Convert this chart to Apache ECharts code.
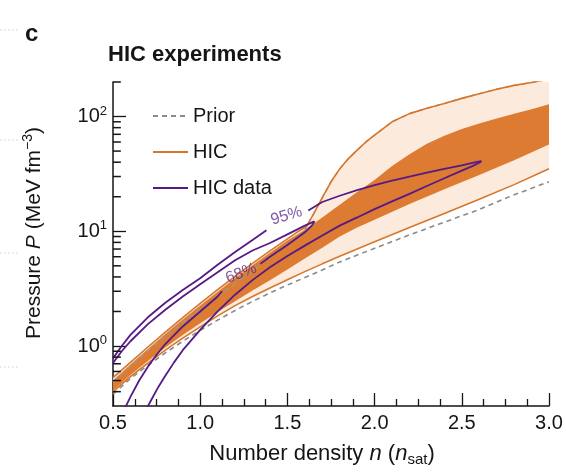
<!DOCTYPE html>
<html><head><meta charset="utf-8">
<script src="https://cdn.jsdelivr.net/npm/echarts@6/dist/echarts.min.js"></script>
<style>html,body{margin:0;padding:0;background:#fff}#c{width:566px;height:472px}</style>
</head><body><div id="c"></div>
<script>
// ---- data (n in n_sat, P in MeV fm^-3) ----
const priorLower = [[0.5,0.38],[0.6,0.52],[0.7,0.68],[0.8,0.87],[0.9,1.10],[1.0,1.37],[1.1,1.68],[1.2,2.04],[1.3,2.45],[1.4,2.9],[1.5,3.4],[1.6,3.95],[1.7,4.6],[1.8,5.4],[1.9,6.2],[2.0,7.1],[2.2,9.3],[2.4,12.0],[2.6,15.5],[2.8,20.8],[3.0,27]];
const priorUpper = [[0.5,0.49],[0.6,0.67],[0.7,0.91],[0.8,1.21],[0.9,1.6],[1.0,2.08],[1.1,2.7],[1.2,3.5],[1.3,4.55],[1.4,5.9],[1.5,7.6],[1.55,8.7],[1.6,10.2],[1.61,11.0],[1.65,14.2],[1.7,19.6],[1.75,27],[1.8,35],[1.85,43],[1.9,51],[1.95,60],[2.0,69],[2.1,90],[2.2,106],[2.3,118],[2.4,130],[2.5,144],[2.6,158],[2.7,173],[2.8,187],[2.9,198],[3.0,212]];
const hicUpper = [[0.5,0.53],[0.6,0.72],[0.7,0.98],[0.8,1.32],[0.9,1.77],[1.0,2.35],[1.1,3.1],[1.2,4.05],[1.3,5.25],[1.4,6.75],[1.5,8.6],[1.55,9.7],[1.61,11.0],[1.65,14.2],[1.7,19.6],[1.75,27],[1.8,35],[1.85,43],[1.9,51],[1.95,60],[2.0,69],[2.1,90],[2.2,106],[2.3,118],[2.4,130],[2.5,144],[2.6,158],[2.7,173],[2.8,187],[2.9,198],[3.0,212]];
const hicLower = [[0.5,0.40],[0.6,0.54],[0.7,0.71],[0.8,0.92],[0.9,1.17],[1.0,1.47],[1.1,1.83],[1.2,2.25],[1.3,2.7],[1.4,3.2],[1.5,3.78],[1.6,4.45],[1.7,5.2],[1.8,6.05],[1.9,7.0],[2.0,8.1],[2.2,10.8],[2.4,14.3],[2.6,19],[2.8,25.5],[3.0,35]];
const hic68Upper = [[0.5,0.50],[0.6,0.69],[0.7,0.94],[0.8,1.27],[0.9,1.7],[1.0,2.25],[1.1,2.97],[1.2,3.9],[1.3,5.05],[1.4,6.5],[1.5,8.3],[1.6,10.3],[1.7,13.2],[1.8,17],[1.9,22],[2.0,28],[2.1,37],[2.2,47],[2.3,58],[2.4,68],[2.5,78],[2.6,87],[2.7,96],[2.8,106],[2.9,116],[3.0,128]];
const hic68Lower = [[0.5,0.41],[0.6,0.56],[0.7,0.74],[0.8,0.97],[0.9,1.25],[1.0,1.58],[1.1,1.98],[1.2,2.45],[1.3,3.05],[1.4,3.75],[1.5,4.65],[1.6,5.8],[1.7,7.2],[1.8,9.0],[1.9,10.8],[2.0,12.6],[2.2,17.3],[2.4,23.2],[2.6,31],[2.8,41.5],[3.0,57]];
const data95UpperA = [[0.5,0.78],[0.55,1.0],[0.6,1.25],[0.7,1.78],[0.8,2.38],[0.9,3.08],[1.0,3.9],[1.1,5.1],[1.2,6.6],[1.3,8.4],[1.38,10.2]];
const data95UpperB = [[1.62,15.2],[1.7,18.0],[1.8,20.4],[1.9,22.8],[2.0,25.2],[2.1,27.6],[2.2,30.0],[2.3,32.4],[2.4,34.9],[2.5,37.6],[2.58,40.0],[2.612,40.8]];
const data95Lower = [[0.69,0.28],[0.72,0.34],[0.76,0.44],[0.8,0.55],[0.85,0.72],[0.9,0.92],[1.0,1.38],[1.1,2.0],[1.2,2.8],[1.3,3.75],[1.4,4.85],[1.5,6.1],[1.6,7.5],[1.7,9.2],[1.8,11.2],[1.9,13.2],[2.0,15.6],[2.1,18.2],[2.2,21.2],[2.3,24.8],[2.4,29.0],[2.5,33.8],[2.56,37.0],[2.6,39.6],[2.612,40.8]];
const data68Upper = [[0.5,0.71],[0.55,0.9],[0.6,1.1],[0.7,1.55],[0.8,2.07],[0.9,2.7],[1.0,3.45],[1.1,4.4],[1.2,5.6],[1.3,6.8],[1.4,7.9],[1.5,9.4],[1.6,11.2],[1.655,12.2]];
const data68LowerA = [[0.565,0.28],[0.6,0.36],[0.65,0.50],[0.7,0.66],[0.75,0.84],[0.8,1.04],[0.9,1.48],[1.0,2.0],[1.1,2.7],[1.125,3.0]];
const data68LowerB = [[1.345,5.2],[1.4,6.0],[1.5,7.6],[1.6,9.8],[1.64,11.2],[1.655,12.2]];
const contourLabels = [[1.495,13.6,'95%',17],[1.235,4.3,'68%',20]];
const xTickLabels = ['0.5','1.0','1.5','2.0','2.5','3.0'];
const yMajorTicks = [1,10,100];
const yMinorTicks = [0.4,0.5,0.6,0.7,0.8,0.9,2,3,4,5,6,7,8,9,20,30,40,50,60,70,80,90,200];

// ---- styles ----
const FONT = 'Liberation Sans, Arial, Helvetica, sans-serif';
const ORANGE = '#D7762A', DARK = '#DC7B31', LIGHT = '#FCEADC', PURPLE = '#561A86', GRAY = '#8a8a8a', INK = '#151515';
const X_MIN = 0.5, MINOR_LEN = 0.045; // minor y tick length in x-axis units (~8 px)

const chart = echarts.init(document.getElementById('c'), null, {renderer:'canvas'});

function band(upper, lower, color, z){
  return {type:'custom', coordinateSystem:'cartesian2d', silent:true, z:z, animation:false,
    data:[upper[0]],
    renderItem:function(params, api){
      const pts = upper.map(p=>api.coord(p)).concat(lower.slice().reverse().map(p=>api.coord(p)));
      const cs = params.coordSys;
      return {type:'polygon', shape:{points:pts}, style:{fill:color, stroke:null},
        clipPath:{type:'rect', shape:{x:cs.x, y:cs.y, width:cs.width, height:cs.height}}};
    }};
}
function line(name, data, color, width, type, z){
  return {type:'line', name:name, data:data, symbol:'none', showSymbol:false, clip:true, silent:true, animation:false, z:z,
    lineStyle:{color:color, width:width, type:type}, itemStyle:{color:color}};
}

const labelRich = {b:{fontSize:20, fontFamily:FONT, color:INK, lineHeight:24}, s:{fontSize:13, fontFamily:FONT, color:INK, verticalAlign:'top', lineHeight:15}};

const minorTickSeries = yMinorTicks.map(function(v){
  return {type:'line', data:[[X_MIN, v],[X_MIN + MINOR_LEN, v]], symbol:'none', showSymbol:false, clip:false, silent:true, animation:false, z:8,
    lineStyle:{color:INK, width:1.5}, itemStyle:{color:INK}};
});

chart.setOption({
  animation:false,
  backgroundColor:'#fff',
  title:{text:'HIC experiments', left:103, top:39, textStyle:{fontSize:22, fontWeight:'bold', fontFamily:FONT, color:INK}},
  graphic:[
    {type:'text', left:25, top:22, style:{text:'c', font:'bold 24px '+FONT, fill:INK}},
    {type:'line', shape:{x1:0,y1:30,x2:20,y2:30}, style:{stroke:'#cfcfcf', lineWidth:1, lineDash:[1.5,2.5]}},
    {type:'line', shape:{x1:0,y1:140,x2:18,y2:140}, style:{stroke:'#cfcfcf', lineWidth:1, lineDash:[1.5,2.5]}},
    {type:'line', shape:{x1:0,y1:253,x2:18,y2:253}, style:{stroke:'#cfcfcf', lineWidth:1, lineDash:[1.5,2.5]}},
    {type:'line', shape:{x1:0,y1:367,x2:18,y2:367}, style:{stroke:'#cfcfcf', lineWidth:1, lineDash:[1.5,2.5]}}
  ],
  legend:{data:['Prior','HIC','HIC data'], orient:'vertical', left:147, top:100, itemWidth:35, itemHeight:14, itemGap:14, itemTextGap:11,
    itemStyle:{color:'rgba(0,0,0,0)', borderWidth:0, opacity:0},
    textStyle:{fontSize:20, fontFamily:FONT, color:INK, lineHeight:22}, selectedMode:false},
  grid:{left:113, right:17, top:82, bottom:66, containLabel:false},
  xAxis:{type:'value', min:0.5, max:3.0, interval:0.5,
    axisLine:{lineStyle:{color:INK, width:1.5}},
    axisTick:{inside:true, length:13, lineStyle:{color:INK, width:1.3}},
    minorTick:{show:true, splitNumber:4, length:7, lineStyle:{color:INK, width:1.3}},
    splitLine:{show:false},
    axisLabel:{margin:7, fontSize:20, fontFamily:FONT, color:INK, formatter:function(v){const i=Math.round((v-0.5)/0.5); return xTickLabels[i]!==undefined?xTickLabels[i]:'';}},
    name:'{a|Number density }{i|n}{a| (}{i|n}{sub|sat}{a|)}', nameLocation:'middle', nameGap:35,
    nameTextStyle:{padding:[0,18,0,0], rich:{a:{fontSize:22, fontFamily:FONT, color:INK, lineHeight:26}, i:{fontSize:22, fontStyle:'italic', fontFamily:FONT, color:INK, lineHeight:26}, sub:{fontSize:15, fontFamily:FONT, color:INK, verticalAlign:'bottom', lineHeight:18}}}
  },
  yAxis:{type:'log', logBase:10, min:0.3, max:200,
    axisLine:{show:true, lineStyle:{color:INK, width:1.5}},
    axisTick:{show:true, inside:true, length:13, customValues:yMajorTicks, lineStyle:{color:INK, width:1.3}},
    axisLabel:{customValues:yMajorTicks, margin:6, formatter:function(v){return '{b|10}{s|'+Math.round(Math.log10(v))+'}';}, rich:labelRich},
    splitLine:{show:false},
    name:'{a|Pressure }{i|P}{a| (MeV fm}{sup|−3}{a|)}', nameLocation:'middle', nameGap:66, nameRotate:90,
    nameTextStyle:{padding:[0,0,0,22], rich:{a:{fontSize:21, fontFamily:FONT, color:INK, lineHeight:26}, i:{fontSize:21, fontStyle:'italic', fontFamily:FONT, color:INK, lineHeight:26}, sup:{fontSize:14, fontFamily:FONT, color:INK, verticalAlign:'top', lineHeight:16}}}
  },
  series:[
    band(hicUpper, hicLower, LIGHT, 1),
    band(hic68Upper, hic68Lower, DARK, 2),
    line('Prior', priorLower, GRAY, 1.6, [5,4], 3),
    line('Prior', priorUpper, '#9a9a9a', 1.4, [5,4], 3),
    line('HIC', hicLower, ORANGE, 1.6, 'solid', 4),
    line('HIC', hicUpper, ORANGE, 1.6, 'solid', 4),
    line('HIC data', data95UpperA, PURPLE, 1.8, 'solid', 5),
    line('HIC data', data95UpperB, PURPLE, 1.8, 'solid', 5),
    line('HIC data', data95Lower, PURPLE, 1.8, 'solid', 5),
    line('HIC data', data68Upper, PURPLE, 1.8, 'solid', 5),
    line('HIC data', data68LowerA, PURPLE, 1.8, 'solid', 5),
    line('HIC data', data68LowerB, PURPLE, 1.8, 'solid', 5),
    {type:'scatter', name:'labels', silent:true, symbolSize:0, z:6, animation:false,
      data:contourLabels.map(d=>({value:[d[0],d[1]], label:{show:true, position:'inside', formatter:d[2], rotate:d[3], fontSize:16, fontFamily:FONT, color:'#5f2a8e'}}))}
  ].concat(minorTickSeries)
});
</script></body></html>
